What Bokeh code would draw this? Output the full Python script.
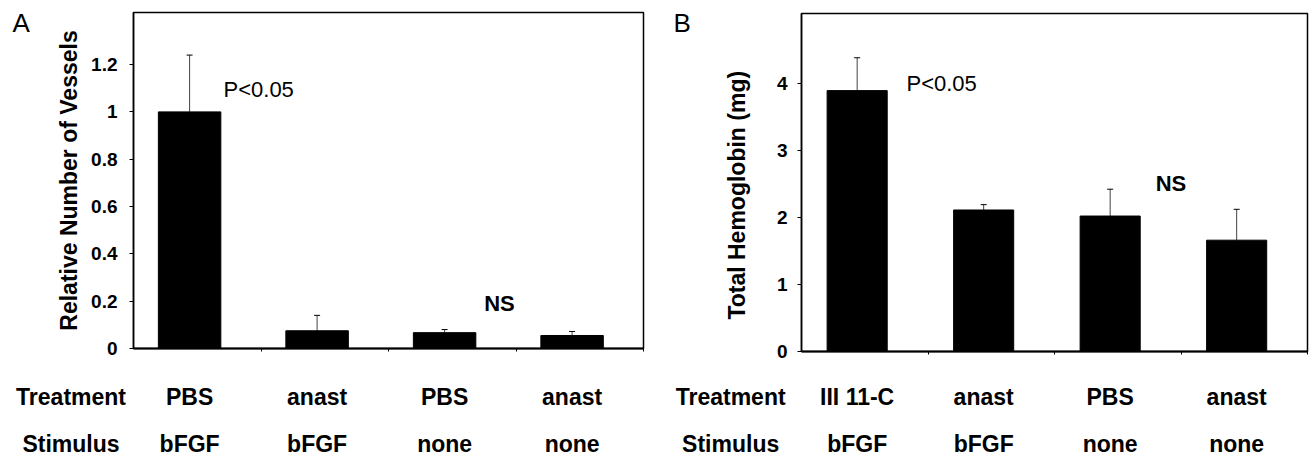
import numpy as np
from bokeh.plotting import figure
from bokeh.models import (ColumnDataSource, Range1d, FixedTicker, Whisker, TeeHead, Label)
from bokeh.layouts import row, column
from bokeh.core.properties import value
from bokeh.embed import file_html
from bokeh.resources import INLINE

# ---------------- data ----------------
row_titles = ["Treatment", "Stimulus"]

a_treatment = ["PBS", "anast", "PBS", "anast"]
a_stimulus = ["bFGF", "bFGF", "none", "none"]
a_values = [1.0, 0.075, 0.067, 0.055]
a_errors = [0.24, 0.065, 0.013, 0.017]
a_yticks = [0, 0.2, 0.4, 0.6, 0.8, 1, 1.2]
a_ytick_labels = ["0", "0.2", "0.4", "0.6", "0.8", "1", "1.2"]
a_ylabel = "Relative Number of Vessels"
a_notes = ["P<0.05", "NS"]

b_treatment = ["III 11-C", "anast", "PBS", "anast"]
b_stimulus = ["bFGF", "bFGF", "none", "none"]
b_values = [3.89, 2.11, 2.02, 1.66]
b_errors = [0.49, 0.08, 0.40, 0.46]
b_yticks = [0, 1, 2, 3, 4]
b_ytick_labels = ["0", "1", "2", "3", "4"]
b_ylabel = "Total Hemoglobin (mg)"
b_notes = ["P<0.05", "NS"]

FONT = "Liberation Sans"
TOP_H = 362      # height of letter + chart strip
ROW_H = 98       # height of the Treatment / Stimulus strip
LETTER_W = 45
NBSP = "\u00a0"
BASE_FIX = 0.4   # em; text glyphs render this much below their nominal baseline


def blank_fig(width, height, x_range, y_range, mbt=0, mbb=0):
    f = figure(width=width, height=height, x_range=x_range, y_range=y_range,
               output_backend="svg", toolbar_location=None, title=None,
               x_axis_location=None, y_axis_location=None,
               min_border_left=0, min_border_right=0, min_border_top=mbt,
               min_border_bottom=mbb)
    f.xgrid.visible = False
    f.ygrid.visible = False
    f.outline_line_color = None
    f.background_fill_color = "white"
    f.border_fill_color = "white"
    return f


def make_panel(letter, treat, stim, vals, errs, yticks, ytick_labels, ylabel, notes,
               ymax, W, mbl, frame_w, mbt, frame_h, bar_w, shift, letter_x, title_x,
               note_pos, ylab_standoff, tick_standoff):
    n = len(vals)
    vals = np.array(vals, dtype=float)
    errs = np.array(errs, dtype=float)
    x = np.arange(n) + 0.5 - shift
    src = ColumnDataSource(dict(x=x, top=vals, upper=vals + errs,
                                treat=treat, stim=stim))

    main_w = W - LETTER_W
    mbr = main_w - mbl - frame_w
    mbb = TOP_H - mbt - frame_h
    p = figure(width=main_w, height=TOP_H, x_range=Range1d(0, n), y_range=Range1d(0, ymax),
               output_backend="svg", toolbar_location=None, title=None,
               min_border_left=mbl, min_border_right=mbr,
               min_border_top=mbt, min_border_bottom=mbb)
    p.xgrid.visible = False
    p.ygrid.visible = False
    p.outline_line_color = "black"
    p.outline_line_width = 1.5
    p.background_fill_color = "white"
    p.border_fill_color = "white"

    ya = p.yaxis[0]
    ya.ticker = FixedTicker(ticks=yticks)
    ya.major_label_overrides = dict(zip(yticks, ytick_labels))
    ya.major_tick_out = 4
    ya.major_tick_in = 0
    ya.minor_tick_out = 0
    ya.minor_tick_in = 0
    ya.axis_line_width = 1.5
    ya.major_label_text_font = FONT
    ya.major_label_text_font_style = "bold"
    ya.major_label_text_font_size = "19px"
    ya.major_label_text_color = "black"
    ya.major_label_standoff = tick_standoff
    ya.axis_label = ylabel
    ya.axis_label_text_font = FONT
    ya.axis_label_text_font_style = "bold"
    ya.axis_label_text_font_size = "23px"
    ya.axis_label_text_color = "black"
    ya.axis_label_standoff = ylab_standoff

    xa = p.xaxis[0]
    bounds = list(range(1, n + 1))
    xa.ticker = FixedTicker(ticks=bounds)
    xa.major_label_overrides = {b: "" for b in bounds}
    xa.major_tick_out = 3
    xa.major_tick_in = 0
    xa.minor_tick_out = 0
    xa.minor_tick_in = 0
    xa.axis_line_width = 2
    xa.major_label_standoff = 0

    p.vbar(x="x", top="top", bottom=0, width=bar_w, fill_color="black",
           line_color="black", source=src)
    p.add_layout(Whisker(source=src, base="x", lower="top", upper="upper",
                         line_color="#444444", line_width=1,
                         upper_head=TeeHead(size=6, line_color="black", line_width=1),
                         lower_head=None))

    for t, (nx, ny), st in zip(notes, note_pos, ["normal", "bold"]):
        p.add_layout(Label(x=nx, y=ny, text=t, text_font=FONT, text_font_size="22px",
                           text_font_style=st, text_baseline="alphabetic",
                           text_color="black"))

    # panel letter strip: same vertical borders as the chart, y in px from frame bottom
    lf = blank_fig(LETTER_W, TOP_H, Range1d(0, LETTER_W), Range1d(0, frame_h),
                   mbt=mbt, mbb=mbb)
    letter_base = 33 - mbt          # px below frame top
    lf.text(x=[letter_x], y=[frame_h - letter_base + BASE_FIX * 26], text=[letter],
            text_font=value(FONT), text_font_size="26px", text_baseline="alphabetic",
            text_align="left", text_color="black")

    # Treatment / Stimulus strip, same horizontal scale as the chart
    ppu = frame_w / n
    x0 = -(LETTER_W + mbl) / ppu
    rf = blank_fig(W, ROW_H, Range1d(x0, x0 + W / ppu), Range1d(0, ROW_H))
    row_base = [406 - TOP_H, 453 - TOP_H]   # px below the strip top
    for col, rb, title in zip(["treat", "stim"], row_base, row_titles):
        yy = ROW_H - rb + BASE_FIX * 23
        rf.text(x="x", y=yy, text=col, source=src, text_align="center",
                text_baseline="alphabetic", text_font=value(FONT),
                text_font_style="bold", text_font_size="23px", text_color="black")
        rf.text(x=[title_x], y=[yy], text=[title], text_align="center",
                text_baseline="alphabetic", text_font=value(FONT),
                text_font_style="bold", text_font_size="23px", text_color="black")

    return column(row(lf, p), rf)


pa = make_panel("A", a_treatment, a_stimulus, a_values, a_errors, a_yticks, a_ytick_labels,
                a_ylabel, a_notes, ymax=1.42, W=656, mbl=88, frame_w=510, mbt=12, frame_h=336,
                bar_w=0.49, shift=0.06, letter_x=12, title_x=-0.49,
                note_pos=[(0.706, 1.096), (2.75, 0.19)],
                ylab_standoff=6, tick_standoff=12)

pb = make_panel("B", b_treatment, b_stimulus, b_values, b_errors, b_yticks, b_ytick_labels,
                b_ylabel + NBSP * 4, b_notes, ymax=5.04, W=653, mbl=100, frame_w=506, mbt=13,
                frame_h=338, bar_w=0.475, shift=0.06, letter_x=17, title_x=-0.56,
                note_pos=[(0.83, 4.0), (2.80, 2.51)],
                ylab_standoff=24, tick_standoff=10)

layout = row(pa, pb)
open("out.html", "w").write(file_html(layout, INLINE))
